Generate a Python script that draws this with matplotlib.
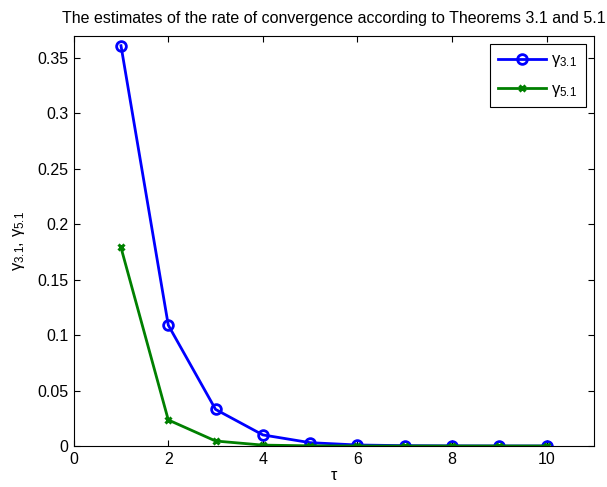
import matplotlib
matplotlib.use("Agg")
import matplotlib.pyplot as plt

tau = [1, 2, 3, 4, 5, 6, 7, 8, 9, 10]
gamma31 = [0.361, 0.109, 0.033, 0.0100, 0.0030, 0.0009, 0.0003, 0.0001, 0.00003, 0.00001]
gamma51 = [0.179, 0.0235, 0.0045, 0.0008, 0.00015, 0.00003, 0.00001, 0.000002, 0.0000005, 0.0000001]

plt.rcParams['font.family'] = ['Liberation Sans', 'DejaVu Sans']
plt.rcParams['mathtext.fontset'] = 'custom'
plt.rcParams['mathtext.rm'] = 'Liberation Sans'
plt.rcParams['mathtext.it'] = 'Liberation Sans'

FS = 11.5
fig = plt.figure(figsize=(6.07, 4.87), dpi=100)
ax = fig.add_axes([0.1214, 0.0842, 0.857, 0.8425])

ax.plot(tau, gamma31, color='#0000ff', lw=2.0, marker='o', ms=7, mfc='none', mew=2.0,
        label=r'$\gamma_{3.1}$')
ax.plot(tau, gamma51, color='#008000', lw=2.0, marker='x', ms=5, mew=2.2,
        label=r'$\gamma_{5.1}$')

ax.set_xlim(0, 11)
ax.set_ylim(0, 0.37)
ax.set_xticks([0, 2, 4, 6, 8, 10])
ax.set_yticks([0, 0.05, 0.1, 0.15, 0.2, 0.25, 0.3, 0.35])
ax.set_yticklabels(['0', '0.05', '0.1', '0.15', '0.2', '0.25', '0.3', '0.35'])
ax.tick_params(direction='in', top=True, right=True, labelsize=FS, length=4, width=0.8, pad=4)
for s in ax.spines.values():
    s.set_linewidth(0.8)

ax.set_xlabel(r'$\tau$', fontsize=FS, labelpad=1)
ax.set_ylabel(r'$\gamma_{3.1}$, $\gamma_{5.1}$', fontsize=FS + 0.5, labelpad=7)
ax.set_title('The estimates of the rate of convergence according to Theorems 3.1 and 5.1',
             fontsize=FS, pad=9)

leg = ax.legend(loc='upper right', fontsize=FS + 0.5, fancybox=False, framealpha=1,
                edgecolor='black', handlelength=2.9, handletextpad=0.3,
                labelspacing=0.75, borderpad=0.5, borderaxespad=0.5)
leg.get_frame().set_linewidth(0.8)

fig.savefig('out.png', dpi=100)
